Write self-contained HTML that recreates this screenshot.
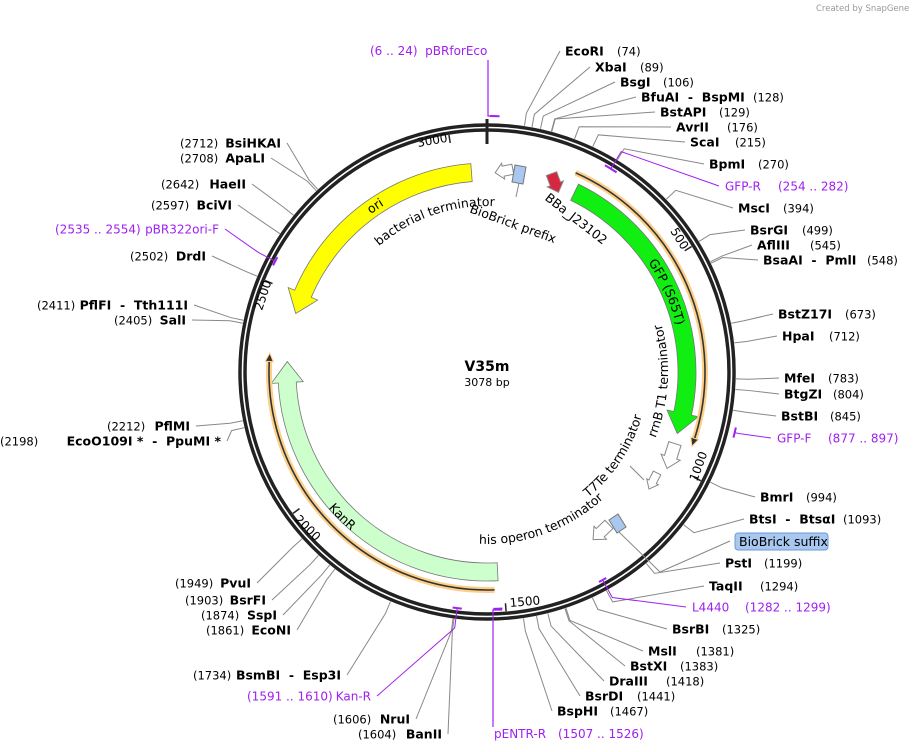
<!DOCTYPE html>
<html><head><meta charset="utf-8"><style>
html,body{margin:0;padding:0;background:#fff;}
svg{display:block;font-family:"DejaVu Sans","Liberation Sans",sans-serif;}
.nm{font-weight:bold;font-size:12.5px;fill:#000;}
.nu{font-size:11.5px;fill:#000;}
.pr{font-size:12px;fill:#a020f0;}
.ft{font-size:12.5px;fill:#000;}
</style></head><body>
<svg id="map" width="913" height="752" viewBox="0 0 913 752" xmlns="http://www.w3.org/2000/svg">
<text x="816" y="11" font-size="8.5" fill="#999">Created by SnapGene</text>
<g id="feat"></g>
<g id="backbone"></g>
<g id="labels"></g>
<text x="487" y="371" text-anchor="middle" font-weight="bold" font-size="14">V35m</text>
<text x="487" y="386" text-anchor="middle" font-size="11">3078 bp</text>
</svg>
<script>
const N=3078, CX=487, CY=372;
const NS='http://www.w3.org/2000/svg';
const SEP='\u00a0\u00a0-\u00a0\u00a0';
const rightNames=['EcoRI','XbaI','BsgI','BfuAI|BspMI','BstAPI','AvrII','ScaI','BpmI','MscI','BsrGI','AflIII','BsaAI|PmlI','BstZ17I','HpaI','MfeI','BtgZI','BstBI','BmrI','BtsI|BtsαI','PstI','TaqII','BsrBI','MslI','BstXI','DraIII','BsrDI','BspHI'];
const rightPos=[74,89,106,128,129,176,215,270,394,499,545,548,673,712,783,804,845,994,1093,1199,1294,1325,1381,1383,1418,1441,1467];
const rightX=[565,595,620,641,660,676,690,709,738,750,757,763,778,782,784,784,781,760,749,725,709,672,648,630,609,585,557];
const rightY=[51,67,82,97,112,127,142,164,208,230,245,260,314,336,378,394,416,497,519,563,586,629,651,666,681,696,711];
const rightNumX=[617,640,663,753,719,727,735,758,783,802,810,867,845,829,828,833,830,806,843,764,760,722,696,680,666,637,610];
const leftNames=['BsiHKAI','ApaLI','HaeII','BciVI','DrdI','PflFI|Tth111I','SalI','PflMI','EcoO109I *|PpuMI *','PvuI','BsrFI','SspI','EcoNI','BsmBI|Esp3I','NruI','BanII'];
const leftPos=[2712,2708,2642,2597,2502,2411,2405,2212,2198,1949,1903,1874,1861,1734,1606,1604];
const leftEnd=[281,265,246,232,206,188,186,190,221,251,266,277,291,341,410,442];
const leftY=[143,158,184,205,256,305,320,426,441,583,600,615,630,675,719,734];
const leftNumX=[180,180,161,151,130,37,114,107,0,175,185,201,206,193,333,358];

function pt(p,r){const a=p/N*2*Math.PI;return [CX+r*Math.sin(a),CY-r*Math.cos(a)];}
function ptA(a,r){const t=a*Math.PI/180;return [CX+r*Math.sin(t),CY-r*Math.cos(t)];}
function mk(tag,at,parent){const e=document.createElementNS(NS,tag);for(const k in at)e.setAttribute(k,at[k]);(parent||document.getElementById('labels')).appendChild(e);return e;}
const L=document.getElementById('labels'), F=document.getElementById('feat'), B=document.getElementById('backbone');

let c1=mk('circle',{cx:CX,cy:CY,r:244.5,fill:'none',stroke:'#222','stroke-width':8.5},B);


let c2=mk('circle',{cx:CX,cy:CY,r:244.5,fill:'none',stroke:'#fff','stroke-width':1.6},B);


let o1=pt(0,240),o2=pt(0,226);
let ot=mk('line',{x1:o1[0],y1:o1[1]-13,x2:o2[0],y2:o2[1]-2,stroke:'#222','stroke-width':3},B);


const tickPos=[500,1000,1500,2000,2500,3000];
const tickLab=['500','1000','1500','2000','2500','3000'];
const tickFix=[[670,231,58],[697,482,-70],[510,607,-5],[294,520,45],[262,311,-72],[418,147,-10]];
tickPos.forEach((p,i)=>{const a=pt(p,240),b=pt(p,232);
 let t=mk('line',{x1:a[0],y1:a[1],x2:b[0],y2:b[1],stroke:'#222','stroke-width':1.5},B);
 
 
 const f=tickFix[i];
 let tx=mk('text',{x:f[0],y:f[1],'font-size':12,transform:`rotate(${f[2]} ${f[0]} ${f[1]})`},B);
 tx.textContent=tickLab[i];
 
 
});

function leader(p,ax,ay,name,color){const a=pt(p,249),b=pt(p,262);
 let l=mk('polyline',{points:`${a[0]},${a[1]} ${b[0]},${b[1]} ${ax},${ay}`,fill:'none',stroke:color||'#888','stroke-width':1});
 
 }

rightNames.forEach((n,i)=>{
 leader(rightPos[i],rightX[i]-5,rightY[i],'leader-'+i);
 let t=mk('text',{x:rightX[i],y:rightY[i]+4.5,class:'nm'});t.textContent=n.split('|').join(SEP);
 
 
 let u=mk('text',{x:rightNumX[i],y:rightY[i]+4.5,class:'nu'});u.textContent='('+rightPos[i]+')';
 
 
});
leftNames.forEach((n,i)=>{
 leader(leftPos[i],leftEnd[i]+6,leftY[i],'leader-left-'+i);
 let t=mk('text',{x:leftEnd[i],y:leftY[i]+4.5,class:'nm','text-anchor':'end'});t.textContent=n.split('|').join(SEP);
 
 
 let u=mk('text',{x:leftNumX[i],y:leftY[i]+4.5,class:'nu'});u.textContent='('+leftPos[i]+')';
 
 
});

const primerNames=['GFP-R','GFP-F','L4440','Kan-R','pBR322ori-F'];
const primerStart=[254,877,1282,1591,2535];
const primerEnd=[282,897,1299,1610,2554];
const primerR=[238,255,238,238,239];
const primerLx=[725,777,692,371,219];
const primerLy=[186,438,607,696,229];
const primerRangeX=[778,828,745,247,55];
const primerSide=['r','r','r','l','l'];
function arcD(a0,a1,r){const p=ptA(a0,r),q=ptA(a1,r);const large=Math.abs(a1-a0)>180?1:0;const sw=a1>a0?1:0;return `M${p[0]},${p[1]} A${r},${r} 0 ${large} ${sw} ${q[0]},${q[1]}`;}
primerNames.forEach((n,i)=>{
 const a0=primerStart[i]/N*360,a1=primerEnd[i]/N*360,am=(a0+a1)/2;
 let m=mk('path',{d:arcD(a0,a1,primerR[i]),fill:'none',stroke:'#a020f0','stroke-width':2});
 
 
 const s=ptA(am,primerR[i]),e=ptA(am,primerR[i]>245?primerR[i]+4:258);
 const ax=primerSide[i]=='r'?primerLx[i]-6:primerLx[i]+6;
 let l=mk('polyline',{points:`${s[0]},${s[1]} ${e[0]},${e[1]} ${ax},${primerLy[i]}`,fill:'none',stroke:'#a020f0','stroke-width':1});
 
 
 let t=mk('text',{x:primerLx[i],y:primerLy[i]+4.5,class:'pr','text-anchor':primerSide[i]=='r'?'start':'end'});t.textContent=n;
 
 
 let u=mk('text',{x:primerRangeX[i],y:primerLy[i]+4.5,class:'pr'});u.textContent='('+primerStart[i]+' .. '+primerEnd[i]+')';
 
 
});
(function(){
 let a=mk('path',{d:arcD(6/N*360,24/N*360,256),fill:'none',stroke:'#a020f0','stroke-width':2});
 
 
 let l=mk('polyline',{points:'497,116 488,116 488,60',fill:'none',stroke:'#a020f0','stroke-width':1.2});
 
 
 let t=mk('text',{x:370,y:55,class:'pr'});t.textContent='(6 .. 24)\u00a0\u00a0pBRforEco';
 
 
 let b=mk('path',{d:arcD(1507/N*360,1526/N*360,237),fill:'none',stroke:'#a020f0','stroke-width':2});
 
 
 let l2=mk('polyline',{points:'502,610 493,610 493,727',fill:'none',stroke:'#a020f0','stroke-width':1.2});
 
 
 let t2=mk('text',{x:494,y:738,class:'pr'});t2.textContent='pENTR-R';
 
 
 let t3=mk('text',{x:558,y:738,class:'pr'});t3.textContent='(1507 .. 1526)';
 
 
 let l3=mk('polyline',{points:'730,541 660,572 619,532',fill:'none',stroke:'#888','stroke-width':1});
 
 
 let r=mk('rect',{x:735,y:533,width:93,height:17,rx:3,fill:'#a8c8f0',stroke:'#6a9ad8','stroke-width':1});
 
 
 let t4=mk('text',{x:739,y:546,'font-size':12.5});t4.textContent='BioBrick suffix';
 
 
})();

const featNames=['ori','GFP (S65T)','KanR'];
const featStart=[2454,222,1513];
const featEnd=[3040,923,2334];
const featHeadAtEnd=[false,true,true];
const featColor=['#ffff00','#11ee11','#ccffcc'];
function featPath(a0,a1,rIn,rOut,headDeg,headEnd,extra){
 let s,e,tip;
 if(headEnd){tip=a1;s=a0;e=a1-headDeg;}else{tip=a0;s=a0+headDeg;e=a1;}
 const rm=(rIn+rOut)/2;
 const P=(a,r)=>ptA(a,r).join(',');
 const large=Math.abs(e-s)>180?1:0;
 if(headEnd)return `M${P(s,rOut)} A${rOut},${rOut} 0 ${large} 1 ${P(e,rOut)} L${P(e,rOut+extra)} L${P(tip,rm)} L${P(e,rIn-extra)} L${P(e,rIn)} A${rIn},${rIn} 0 ${large} 0 ${P(s,rIn)} Z`;
 return `M${P(e,rOut)} A${rOut},${rOut} 0 ${large} 0 ${P(s,rOut)} L${P(s,rOut+extra)} L${P(tip,rm)} L${P(s,rIn-extra)} L${P(s,rIn)} A${rIn},${rIn} 0 ${large} 1 ${P(e,rIn)} Z`;}
featNames.forEach((n,i)=>{
 let p=mk('path',{d:featPath(featStart[i]/N*360,featEnd[i]/N*360,191,209,6,featHeadAtEnd[i],7),fill:featColor[i],stroke:'#777','stroke-width':0.8},F);
 
 
});
const orfStart=[205,1522];
const orfEnd=[940,2351];
orfStart.forEach((s,i)=>{
 const a0=s/N*360,a1=orfEnd[i]/N*360;
 let g=mk('path',{d:arcD(a0,a1-1.5,218),fill:'none',stroke:'#fdd08a','stroke-width':6},F);
 
 
 let k=mk('path',{d:arcD(a0,a1-1.5,218),fill:'none',stroke:'#333','stroke-width':1.6},F);
 
 
 const t=ptA(a1,218),b1=ptA(a1-2.2,214),b2=ptA(a1-2.2,222);
 let h=mk('polygon',{points:`${t} ${b1} ${b2}`,fill:'#333',stroke:'#fdd08a','stroke-width':1},F);
 
 
});
function smallArrow(name,cx,cy,dx,dy,len,w,fill){
 const m=Math.hypot(dx,dy);dx/=m;dy/=m;const nx=-dy,ny=dx;
 const h=len*0.45,bw=w*0.32,hw=w/2;
 const loc=[[-len/2,-bw],[len/2-h,-bw],[len/2-h,-hw],[len/2,0],[len/2-h,hw],[len/2-h,bw],[-len/2,bw]];
 const pts=loc.map(([u,v])=>`${cx+u*dx+v*nx},${cy+u*dy+v*ny}`).join(' ');
 let p=mk('polygon',{points:pts,fill:fill,stroke:'#888','stroke-width':1},F);
 
 }
smallArrow('bacterial-terminator',504,171,-1,0.2,18,16,'#fff');
smallArrow('bba-j23102-promoter',555,183,0.35,0.94,20,17,'#d7263d');
smallArrow('rrnb-t1-terminator',671,456,-0.3,0.95,26,20,'#fff');
smallArrow('t7te-terminator',653,481,-0.45,0.9,18,13,'#fff');
smallArrow('his-operon-terminator',601,532,-0.72,0.69,22,18,'#fff');
(function(){
 const sm=[['biobrick-prefix-box','515,165 526,167 523,184 512,182','#a8c8f0','#777'],
 ['biobrick-suffix-feature','609,520 618,514 626,527 617,533','#a8c8f0','#777']];
 sm.forEach(s=>{let p=mk('polygon',{points:s[1],fill:s[2],stroke:s[3],'stroke-width':1},F);
  
  });
 let l=mk('line',{x1:519,y1:183,x2:516,y2:197,stroke:'#888','stroke-width':1},F);
 
 
 let l2=mk('line',{x1:630,y1:466,x2:644,y2:480,stroke:'#888','stroke-width':1},F);
 
 
})();
let tpi=0;
function arcText(txt,r,ang,cw,name,size){
 const id='tp'+(tpi++);
 const d=cw?arcD(ang-90,ang+90,r):arcD(ang+90,ang-90,r);
 mk('path',{id:id,d:d,fill:'none',stroke:'none'},F);
 let t=mk('text',{'font-size':size||12.5},F);
 
 
 let tp=document.createElementNS(NS,'textPath');tp.setAttribute('href','#'+id);tp.setAttribute('startOffset','50%');tp.setAttribute('text-anchor','middle');tp.textContent=txt;t.appendChild(tp);}
arcText('bacterial terminator',166,-19,true,'bacterial-terminator-label');
arcText('ori',196,-34,true,'ori-label');
arcText('GFP (S65T)',195,66,true,'gfp-label');
arcText('rrnB T1 terminator',181,93,false,'rrnb-label');
arcText('T7Te terminator',161,123.5,false,'t7te-label');
arcText('his operon terminator',172,160,false,'his-operon-label');
arcText('KanR',209,225,false,'kanr-label');
(function(){
 let t=mk('text',{x:513,y:228,'font-size':12.5,'text-anchor':'middle',transform:'rotate(20 513 224)'},F);t.textContent='BioBrick prefix';
 
 
 let u=mk('text',{x:576,y:223,'font-size':12.5,'text-anchor':'middle',transform:'rotate(38 576 219)'},F);u.textContent='BBa_J23102';
 
 
})();
</script>
</body></html>
